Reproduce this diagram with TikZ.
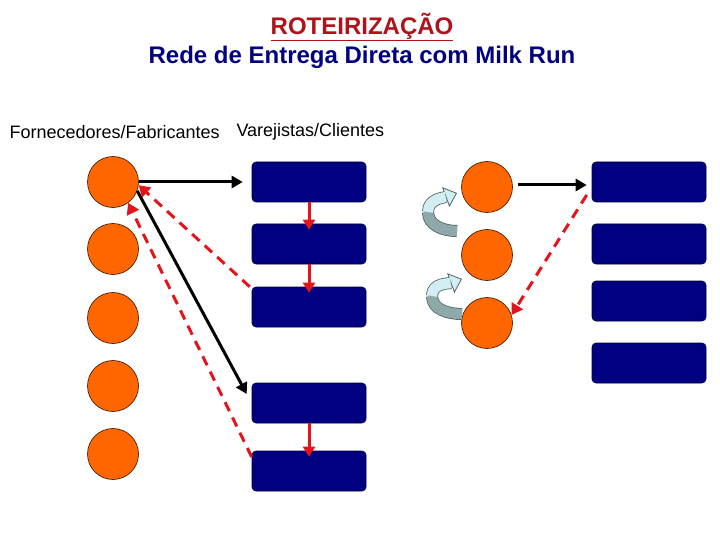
\documentclass[tikz,border=0pt]{standalone}
\usepackage{fontspec}
\setmainfont{Liberation Sans}
\usetikzlibrary{arrows.meta, positioning, calc}

\definecolor{laranja}{HTML}{FF6600}
\definecolor{marinho}{HTML}{000080}
\definecolor{vermelho}{HTML}{E3141C}
\definecolor{titulo}{HTML}{B0121A}
\definecolor{fitaborda}{HTML}{4E6466}
\definecolor{fitaescura}{HTML}{8FA9AB}
\definecolor{fitaclara}{HTML}{D3EEF3}

\begin{document}
\begin{tikzpicture}[x=1pt,y=-1pt,
	forn/.style={circle,draw=black!80!laranja,line width=0.6pt,fill=laranja,minimum size=51pt,inner sep=0pt},
	cli/.style={rectangle,rounded corners=4pt,draw=black!60!marinho,line width=0.6pt,fill=marinho,minimum width=114pt,minimum height=40pt,inner sep=0pt},
	ida/.style={line width=3pt,black,-{Triangle[length=11pt,width=12pt]}},
	volta/.style={line width=3pt,vermelho,dash pattern=on 10pt off 7pt,-{Triangle[length=11pt,width=13pt]}},
	passa/.style={line width=3pt,vermelho,-{Triangle[length=10pt,width=12pt]},shorten >=-6pt},
	fitafora/.style={line width=12pt,draw=fitaborda},
	fitaponta/.style={fitafora,-{Triangle[length=12pt,width=21pt,fill=fitaclara,line width=0.8pt]}},
	fitabaixo/.style={line width=10.4pt,draw=fitaescura},
	fitacima/.style={line width=10.4pt,draw=fitaclara,shorten >=12pt}]
	\useasboundingbox (0,0) rectangle (720,540);
	% titulo
	\node (tit) at (362,27) {\fontsize{24}{26}\selectfont\bfseries\color{titulo}\underline{ROTEIRIZAÇÃO}};
	\node (sub) at (362,57) {\fontsize{24}{26}\selectfont\bfseries\color{marinho}Rede de Entrega Direta com Milk Run};
	\node[anchor=west] (lforn) at (6,132) {\fontsize{18}{20}\selectfont Fornecedores/Fabricantes};
	\node[anchor=west] (lcli) at (233,132) {\fontsize{18}{20}\selectfont Varejistas/Clientes};
	% entrega direta
	\foreach \i/\y in {1/182,2/249,3/318,4/386,5/454}
		\node[forn] (f\i) at (113,\y) {};
	\foreach \i/\y in {1/182,2/244,3/307,4/403,5/471}
		\node[cli] (v\i) at (309,\y) {};
	\draw[ida,shorten >=9pt] (f1.east) -- (v1.west);
	\draw[passa] (v1.south) -- (v2.north);
	\draw[passa] (v2.south) -- (v3.north);
	\draw[passa] (v4.south) -- (v5.north);
	\draw[ida] (f1.-20) -- ([xshift=-5pt,yshift=9pt]v4.west);
	\draw[volta] ([xshift=-2pt]v3.north west) -- (f1.-7);
	\draw[volta] ([yshift=14pt]v5.west) -- (f1.-54);
	% milk run
	\foreach \i/\y in {1/187,2/255,3/323}
		\node[forn] (m\i) at (487,\y) {};
	\foreach \i/\y in {1/182,2/244,3/301,4/363}
		\node[cli] (c\i) at (649,\y) {};
	\draw[ida,shorten <=5pt,shorten >=5pt] ([yshift=2pt]m1.east) -- ([yshift=2pt]c1.west |- m1.east);
	\draw[volta] ([xshift=-5pt,yshift=-13pt]c1.west) -- (m3.18);
	\coordinate (r1a) at (457,231);
	\coordinate (r1m) at (428,212);
	\coordinate (r1b) at (457,193);
	\coordinate (r2a) at (462,314);
	\coordinate (r2m) at (432,296);
	\coordinate (r2b) at (462,279);
	\foreach \a/\m/\b in {r1a/r1m/r1b,r2a/r2m/r2b}{
		\draw[fitafora] (\a) to[out=180,in=-90] (\m);
		\draw[fitaponta] (\m) to[out=90,in=200] (\b);
		\draw[fitabaixo] (\a) to[out=180,in=-90] (\m);
		\draw[fitacima] (\m) to[out=90,in=200] (\b);
	}
\end{tikzpicture}
\end{document}
